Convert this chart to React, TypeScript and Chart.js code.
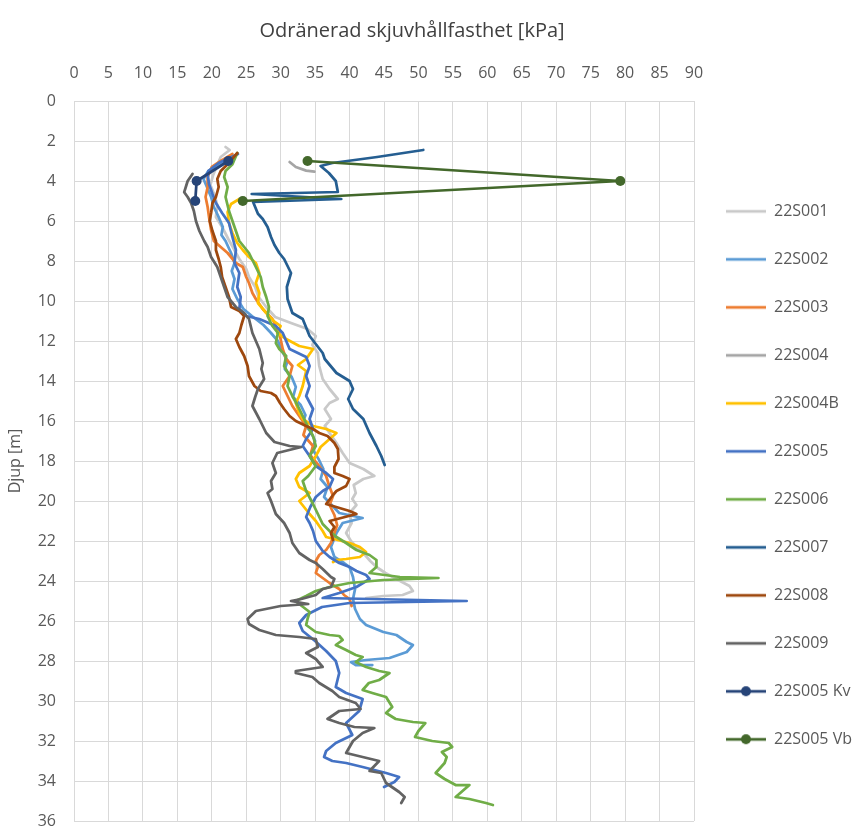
import React, { useEffect, useRef } from 'react';
import { Chart, registerables } from 'chart.js';

Chart.register(...registerables);

const CHART_TITLE = 'Odränerad skjuvhållfasthet [kPa]';
const Y_TITLE = 'Djup [m]';
const X_MIN = 0;
const X_MAX = 90;
const X_STEP = 5;
const Y_MIN = 0;
const Y_MAX = 36;
const Y_STEP = 2;

const SERIES_NAMES = [
  '22S001', '22S002', '22S003', '22S004', '22S004B', '22S005',
  '22S006', '22S007', '22S008', '22S009', '22S005 Kv', '22S005 Vb',
];
const SERIES_COLORS = [
  '#C9C9C9', '#5B9BD5', '#ED7D31', '#A5A5A5', '#FFC000', '#4472C4',
  '#70AD47', '#255E91', '#9E480E', '#636363', '#264478', '#43682B',
];
const SERIES_MARKERS = [false, false, false, false, false, false, false, false, false, false, true, true];

// [kPa, depth m]
const s22S001: [number, number][] = [
  [22.0, 2.3], [22.6, 2.45], [21.3, 2.8], [20.8, 3.2], [20.2, 3.7], [19.8, 4.2], [20.4, 4.7], [20.8, 5.2],
  [20.6, 5.8], [21.5, 6.3], [22.4, 6.9], [23.2, 7.4], [24.0, 7.9], [25.0, 8.4], [25.4, 8.8], [26.3, 9.3],
  [26.8, 9.8], [27.9, 10.3], [29.2, 10.8], [31.5, 11.1], [33.9, 11.4], [35.1, 11.75], [34.6, 12.2], [35.4, 12.6],
  [35.6, 13.25], [36.1, 13.9], [37.1, 14.4], [38.3, 14.9], [37.1, 15.1], [36.4, 15.4], [37.3, 15.9], [36.4, 16.25],
  [37.1, 16.6], [38.1, 17.1], [39.0, 17.6], [40.0, 18.1], [42.0, 18.4], [43.6, 18.75], [42.0, 18.9], [40.6, 19.2],
  [40.9, 19.6], [40.4, 19.9], [41.0, 20.2], [40.0, 20.6], [40.3, 21.1], [39.5, 21.6], [40.2, 22.0], [41.0, 22.3],
  [42.0, 22.6], [43.0, 23.0], [43.9, 23.3], [45.2, 23.6], [46.8, 23.9], [48.7, 24.25], [49.2, 24.5], [47.7, 24.7],
  [44.9, 24.75], [42.4, 24.85],
];
const s22S002: [number, number][] = [
  [23.6, 2.7], [21.5, 3.1], [19.5, 3.5], [18.8, 3.9], [19.3, 4.3], [19.9, 4.8], [20.3, 5.3], [21.0, 5.8],
  [21.6, 6.3], [21.4, 6.7], [22.0, 7.0], [22.8, 7.6], [23.3, 8.1], [22.9, 8.5], [23.3, 8.9], [23.0, 9.4],
  [23.7, 9.9], [24.6, 10.4], [26.0, 10.8], [27.5, 11.2], [28.6, 11.6], [29.6, 12.0], [30.2, 12.5], [31.0, 13.0],
  [30.6, 13.4], [31.6, 13.8], [32.2, 14.3], [31.8, 14.8], [32.9, 15.2], [33.6, 15.7], [33.2, 16.1], [34.3, 16.5],
  [35.0, 17.0], [34.6, 17.4], [35.5, 17.9], [36.2, 18.4], [35.8, 18.9], [36.8, 19.3], [36.3, 19.8], [37.4, 20.2],
  [38.5, 20.6], [41.9, 20.85], [39.0, 21.1], [38.1, 21.6], [37.3, 22.3], [37.8, 22.8], [39.2, 23.1], [40.0, 23.3],
  [40.5, 23.8], [40.8, 24.4], [40.5, 24.9], [40.8, 25.4], [41.5, 25.9], [42.4, 26.2], [44.9, 26.55], [46.8, 26.7],
  [48.3, 27.05], [49.2, 27.2], [48.3, 27.55], [45.8, 27.85], [42.4, 27.95], [40.2, 28.05], [40.9, 28.2], [43.3, 28.2],
];
const s22S003: [number, number][] = [
  [23.0, 2.65], [21.3, 3.0], [20.0, 3.3], [19.4, 3.8], [19.4, 4.3], [19.1, 4.8], [19.4, 5.3], [19.6, 5.8],
  [19.9, 6.45], [20.3, 7.0], [21.3, 7.3], [22.3, 7.6], [23.5, 8.1], [24.5, 8.3], [25.0, 8.8], [25.4, 9.1],
  [25.9, 9.6], [26.4, 9.9], [27.4, 10.4], [28.8, 10.9], [29.8, 11.6], [30.3, 12.4], [30.8, 12.9], [31.7, 13.25],
  [31.3, 13.75], [30.3, 14.25], [31.0, 14.75], [31.7, 15.25], [32.7, 15.75], [33.7, 16.25], [33.3, 16.7], [34.7, 17.25],
  [34.3, 17.7], [35.6, 18.25], [36.6, 18.75], [37.0, 19.2], [37.6, 19.75], [37.1, 20.2], [37.8, 20.7], [38.2, 21.2],
  [37.8, 21.6], [37.3, 22.1], [36.6, 22.45], [35.6, 22.7], [35.1, 23.0], [35.4, 23.3], [35.1, 23.6], [36.1, 23.85],
  [37.1, 24.1], [37.8, 24.25], [38.5, 24.4], [39.2, 24.7], [40.0, 24.9], [40.3, 25.25],
];
const s22S004: [number, number][] = [
  [31.3, 3.05], [32.2, 3.3], [33.7, 3.48], [34.9, 3.53],
];
const s22S004B: [number, number][] = [
  [24.0, 4.9], [22.8, 5.15], [22.3, 5.55], [22.5, 6.1], [23.0, 6.6], [23.7, 7.1], [24.5, 7.45], [25.4, 7.8],
  [26.4, 8.1], [26.9, 8.6], [26.4, 9.1], [26.9, 9.6], [26.7, 10.1], [27.9, 10.6], [29.0, 11.0], [30.0, 11.25],
  [29.5, 11.6], [30.8, 11.9], [32.7, 12.25], [34.7, 12.4], [33.7, 12.9], [32.5, 13.2], [33.7, 13.5], [33.2, 14.25],
  [32.7, 14.75], [32.2, 15.1], [32.7, 15.6], [33.2, 15.9], [34.7, 16.25], [36.6, 16.4], [38.1, 16.6], [37.1, 16.9],
  [35.8, 17.3], [35.1, 17.75], [34.2, 18.25], [32.7, 18.6], [32.2, 18.9], [32.7, 19.3], [34.2, 19.6], [32.7, 20.0],
  [34.2, 20.65], [35.1, 21.0], [36.1, 21.5], [36.6, 21.8], [40.0, 22.1], [41.5, 22.3], [42.4, 22.55], [41.5, 22.8],
  [39.5, 22.9], [38.1, 22.95], [37.6, 23.05],
];
const s22S005: [number, number][] = [
  [23.8, 2.65], [21.0, 3.1], [19.5, 3.5], [19.4, 3.65], [19.6, 4.15], [20.1, 4.65], [20.6, 5.1], [21.5, 5.6],
  [22.5, 6.1], [23.0, 6.8], [23.5, 7.45], [23.3, 8.1], [24.0, 8.6], [23.7, 9.3], [24.2, 9.8], [24.0, 10.4],
  [25.0, 10.75], [26.9, 10.9], [29.3, 11.25], [30.3, 11.6], [31.3, 12.4], [33.7, 12.8], [34.2, 13.25], [33.7, 13.75],
  [34.2, 14.25], [33.7, 14.75], [34.7, 15.4], [34.2, 15.9], [34.7, 16.4], [33.7, 16.9], [33.2, 17.25], [34.2, 17.75],
  [35.1, 18.25], [36.6, 18.6], [37.6, 18.9], [37.1, 19.3], [36.1, 19.5], [35.1, 19.8], [34.3, 20.3], [33.7, 20.8],
  [34.2, 21.1], [34.7, 21.5], [35.1, 22.0], [36.1, 22.5], [37.1, 22.8], [38.5, 23.1], [40.0, 23.3], [41.0, 23.5],
  [42.4, 23.7], [42.9, 23.9], [41.0, 24.3], [38.5, 24.6], [36.1, 24.85], [57.0, 25.0], [40.0, 25.1], [36.0, 25.3],
  [33.7, 25.7], [32.7, 26.1], [33.2, 26.5], [35.0, 27.0], [36.6, 27.5], [38.0, 28.0], [38.5, 28.6], [38.0, 29.3],
  [39.5, 29.6], [41.9, 29.9], [41.4, 30.5], [39.5, 31.1], [40.4, 31.7], [38.0, 32.1], [36.6, 32.5], [36.3, 32.8],
  [37.5, 33.0], [39.5, 33.1], [41.9, 33.3], [45.3, 33.6], [47.2, 33.8], [46.5, 34.05], [45.0, 34.3],
];
const s22S006: [number, number][] = [
  [23.7, 2.6], [23.0, 3.16], [22.0, 3.5], [21.8, 3.8], [22.3, 4.3], [22.0, 4.8], [22.5, 5.5], [23.0, 6.0],
  [23.5, 6.5], [24.0, 7.0], [24.7, 7.3], [25.4, 7.6], [26.4, 8.3], [27.1, 8.8], [27.4, 9.3], [27.9, 9.8],
  [28.3, 10.3], [28.1, 10.75], [28.8, 11.25], [29.6, 11.6], [29.3, 12.1], [29.8, 12.4], [30.8, 12.75], [30.5, 13.25],
  [31.3, 13.75], [31.0, 14.25], [31.7, 14.75], [32.5, 15.25], [33.2, 15.75], [33.9, 16.25], [34.7, 16.75], [35.1, 17.25],
  [34.2, 17.75], [35.1, 18.25], [34.0, 18.75], [33.2, 19.0], [33.7, 19.5], [34.7, 20.15], [35.4, 20.65], [36.1, 21.15],
  [37.1, 21.5], [38.1, 21.8], [39.5, 22.1], [41.0, 22.45], [42.9, 22.7], [43.9, 22.95], [43.9, 23.3], [42.9, 23.6],
  [47.3, 23.8], [52.9, 23.85], [44.9, 23.95], [40.0, 24.1], [37.1, 24.3], [35.1, 24.5], [33.7, 24.75], [32.2, 25.0],
  [32.5, 25.1], [34.2, 25.55], [33.9, 25.9], [33.7, 26.2], [35.1, 26.55], [37.1, 26.7], [38.5, 26.75], [39.0, 26.95],
  [38.0, 27.2], [39.5, 27.45], [40.9, 27.7], [41.9, 27.8], [40.9, 28.05], [42.4, 28.3], [44.3, 28.5], [45.8, 28.6],
  [44.3, 28.95], [42.8, 29.1], [41.9, 29.45], [43.3, 29.6], [45.3, 29.8], [46.2, 30.3], [45.3, 30.6], [46.7, 30.9],
  [49.2, 31.05], [51.0, 31.1], [50.0, 31.5], [49.5, 31.8], [52.0, 32.0], [54.4, 32.1], [54.9, 32.3], [53.4, 32.55],
  [54.1, 32.8], [53.8, 33.1], [52.5, 33.6], [53.8, 33.9], [55.4, 34.2], [57.4, 34.2], [55.4, 34.8], [57.4, 34.9],
  [59.8, 35.1], [60.8, 35.2],
];
const s22S007: [number, number][] = [
  [50.7, 2.45], [44.0, 2.8], [37.5, 3.1], [35.8, 3.25], [37.0, 3.6], [38.0, 4.0], [38.3, 4.55], [25.8, 4.65],
  [38.8, 4.9], [26.0, 5.05], [26.7, 5.64], [27.4, 5.9], [28.1, 6.3], [28.6, 6.8], [29.1, 7.2], [29.8, 7.6],
  [30.5, 7.9], [31.5, 8.6], [30.9, 9.3], [31.0, 9.9], [31.7, 10.6], [33.2, 10.9], [34.2, 11.75], [36.1, 12.6],
  [36.4, 12.9], [38.1, 13.6], [40.0, 14.0], [40.5, 14.4], [39.8, 14.9], [40.5, 15.4], [42.0, 15.9], [42.9, 16.6],
  [43.9, 17.25], [44.6, 17.75], [45.1, 18.2],
];
const s22S008: [number, number][] = [
  [23.7, 2.6], [22.3, 3.16], [21.3, 3.5], [20.8, 3.9], [21.0, 4.3], [20.6, 4.8], [20.1, 5.1], [19.9, 5.6],
  [19.7, 6.0], [20.1, 6.5], [20.6, 7.0], [20.6, 7.45], [21.0, 7.9], [21.3, 8.3], [21.5, 8.8], [22.0, 9.3],
  [22.5, 9.8], [22.8, 10.3], [24.0, 10.5], [24.7, 10.75], [24.3, 11.2], [24.0, 11.6], [23.5, 11.9], [24.0, 12.3],
  [24.7, 12.75], [25.2, 13.25], [25.4, 13.75], [26.2, 14.25], [27.1, 14.5], [28.6, 14.6], [29.3, 14.75], [29.9, 15.1],
  [30.5, 15.4], [31.3, 15.75], [32.2, 16.0], [33.7, 16.25], [34.7, 16.4], [35.6, 16.6], [36.8, 16.75], [37.8, 17.1],
  [38.3, 17.4], [38.4, 17.9], [37.8, 18.3], [37.8, 18.6], [39.0, 18.75], [40.0, 18.9], [39.5, 19.25], [38.1, 19.5],
  [37.6, 19.7], [36.6, 20.15], [40.0, 20.5], [41.0, 20.65], [37.1, 21.0], [37.8, 21.3], [37.3, 21.6], [37.6, 21.95],
];
const s22S009: [number, number][] = [
  [17.2, 3.65], [16.5, 4.0], [16.0, 4.56], [16.5, 4.8], [17.0, 5.1], [17.4, 5.5], [17.7, 6.0], [18.2, 6.5],
  [18.9, 7.0], [19.4, 7.3], [19.9, 7.8], [20.8, 8.3], [21.3, 8.8], [21.8, 9.3], [22.3, 9.8], [23.5, 10.3],
  [24.7, 10.6], [25.4, 10.9], [25.9, 11.6], [26.9, 12.4], [27.4, 13.1], [27.2, 13.4], [27.6, 13.9], [26.7, 14.4],
  [26.3, 14.8], [25.9, 15.25], [26.9, 15.9], [27.9, 16.6], [29.1, 17.05], [31.3, 17.25], [33.0, 17.3], [29.5, 17.6],
  [28.8, 18.1], [29.3, 18.6], [28.6, 19.0], [28.8, 19.4], [28.1, 19.6], [28.6, 20.0], [29.3, 20.65], [30.5, 21.1],
  [31.3, 21.6], [31.7, 22.1], [32.7, 22.6], [34.2, 22.95], [35.1, 23.1], [36.1, 23.4], [37.3, 23.8], [37.8, 23.9],
  [37.3, 24.3], [36.1, 24.4], [35.1, 24.7], [33.0, 24.9], [31.5, 25.0], [34.0, 25.15], [30.0, 25.25], [26.4, 25.5],
  [25.2, 25.9], [25.4, 26.15], [26.9, 26.45], [29.3, 26.7], [32.7, 26.8], [35.1, 26.9], [35.4, 27.3], [33.7, 27.6],
  [35.1, 27.9], [36.1, 28.3], [32.2, 28.5], [32.2, 28.6], [34.6, 28.8], [35.6, 29.1], [37.5, 29.5], [38.5, 29.8],
  [40.9, 30.1], [41.6, 30.4], [38.5, 30.5], [36.8, 30.9], [38.5, 31.1], [40.7, 31.3], [43.6, 31.35], [41.9, 31.6],
  [40.5, 32.0], [39.5, 32.6], [41.9, 32.8], [44.3, 33.0], [42.9, 33.5], [44.6, 33.6], [45.3, 34.1], [47.2, 34.55],
  [48.0, 34.8], [47.5, 35.1],
];
const s22S005Kv: [number, number][] = [
  [22.4, 3.0], [17.8, 4.0], [17.6, 5.0],
];
const s22S005Vb: [number, number][] = [
  [33.9, 3.0], [79.3, 4.0], [24.5, 5.0],
];

const SERIES_DATA = [
  s22S001, s22S002, s22S003, s22S004, s22S004B, s22S005,
  s22S006, s22S007, s22S008, s22S009, s22S005Kv, s22S005Vb,
];

const FONT_FAMILY = "'Open Sans', 'DejaVu Sans', sans-serif";

function makeLegendSymbol(color: string, marker: boolean): HTMLCanvasElement {
  const c = document.createElement('canvas');
  c.width = 40;
  c.height = 14;
  const g = c.getContext('2d');
  if (g) {
    g.strokeStyle = color;
    g.lineWidth = 2.75;
    g.beginPath();
    g.moveTo(0, 7);
    g.lineTo(40, 7);
    g.stroke();
    if (marker) {
      g.fillStyle = color;
      g.beginPath();
      g.arc(20, 7, 5, 0, Math.PI * 2);
      g.fill();
    }
  }
  return c;
}

// Draws the chart heading, centred a little left of the canvas middle as in the reference.
const headingPlugin = {
  id: 'heading',
  afterDraw(chart: any) {
    const { ctx } = chart;
    ctx.save();
    ctx.font = `20px ${FONT_FAMILY}`;
    ctx.fillStyle = '#404040';
    ctx.textAlign = 'center';
    ctx.textBaseline = 'middle';
    ctx.fillText(CHART_TITLE, 412, 31);
    ctx.restore();
  },
};

export default function App() {
  const canvasRef = useRef<HTMLCanvasElement | null>(null);

  useEffect(() => {
    const canvas = canvasRef.current;
    if (!canvas) return;
    const symbols = SERIES_COLORS.map((c, i) => makeLegendSymbol(c, SERIES_MARKERS[i]));
    const n = SERIES_DATA.length;

    const chart = new Chart(canvas, {
      type: 'scatter',
      data: {
        datasets: SERIES_DATA.map((pts, i) => ({
          label: SERIES_NAMES[i],
          data: pts.map(([x, y]) => ({ x, y })),
          showLine: true,
          borderColor: SERIES_COLORS[i],
          backgroundColor: SERIES_COLORS[i],
          borderWidth: 2.75,
          borderJoinStyle: 'round',
          borderCapStyle: 'round',
          pointRadius: SERIES_MARKERS[i] ? 5 : 0,
          pointHoverRadius: SERIES_MARKERS[i] ? 5 : 0,
          pointBackgroundColor: SERIES_COLORS[i],
          pointBorderColor: SERIES_COLORS[i],
          pointBorderWidth: 0,
          tension: 0,
          order: n - 1 - i,
        })),
      },
      options: {
        responsive: false,
        animation: false,
        events: [],
        layout: { padding: { top: 0, right: 0, bottom: 6, left: 0 } },
        plugins: {
          title: { display: false },
          legend: {
            position: 'right',
            align: 'center',
            fullSize: false,
            maxWidth: 160,
            title: { display: true, text: '', padding: 7, font: { size: 12 } },
            labels: {
              usePointStyle: true,
              pointStyleWidth: 40,
              boxHeight: 16,
              padding: 32,
              color: '#595959',
              font: { family: FONT_FAMILY, size: 16 },
              sort: (a: any, b: any) => a.datasetIndex - b.datasetIndex,
              generateLabels: (ch: any) => {
                const items = Chart.defaults.plugins.legend.labels.generateLabels(ch);
                return items.map((it: any) => ({ ...it, pointStyle: symbols[it.datasetIndex] }));
              },
            },
          },
          tooltip: { enabled: false },
        },
        scales: {
          x: {
            type: 'linear',
            position: 'top',
            min: X_MIN,
            max: X_MAX,
            ticks: {
              stepSize: X_STEP,
              padding: 18,
              color: '#595959',
              font: { family: FONT_FAMILY, size: 16 },
            },
            grid: { color: '#D9D9D9', lineWidth: 1, drawTicks: false },
            border: { color: '#D9D9D9', width: 1 },
            afterFit: (s: any) => {
              s.height = 101;
              s.paddingLeft = 0;
              s.paddingRight = 0;
            },
          },
          y: {
            type: 'linear',
            position: 'left',
            reverse: true,
            min: Y_MIN,
            max: Y_MAX,
            ticks: {
              stepSize: Y_STEP,
              padding: 18,
              color: '#595959',
              font: { family: FONT_FAMILY, size: 16 },
            },
            grid: { color: '#D9D9D9', lineWidth: 1, drawTicks: false },
            border: { color: '#D9D9D9', width: 1 },
            title: {
              display: true,
              text: Y_TITLE,
              color: '#595959',
              font: { family: FONT_FAMILY, size: 16 },
              padding: { top: 6, bottom: 0 },
            },
            afterFit: (s: any) => {
              s.width = 74;
              s.paddingTop = 0;
              s.paddingBottom = 0;
            },
          },
        },
      } as any,
      plugins: [headingPlugin],
    });

    return () => {
      chart.destroy();
    };
  }, []);

  return (
    <div style={{ position: 'fixed', left: 0, top: 0, width: 854, height: 827, background: '#ffffff' }}>
      <canvas ref={canvasRef} width={854} height={827} style={{ display: 'block' }} />
    </div>
  );
}
